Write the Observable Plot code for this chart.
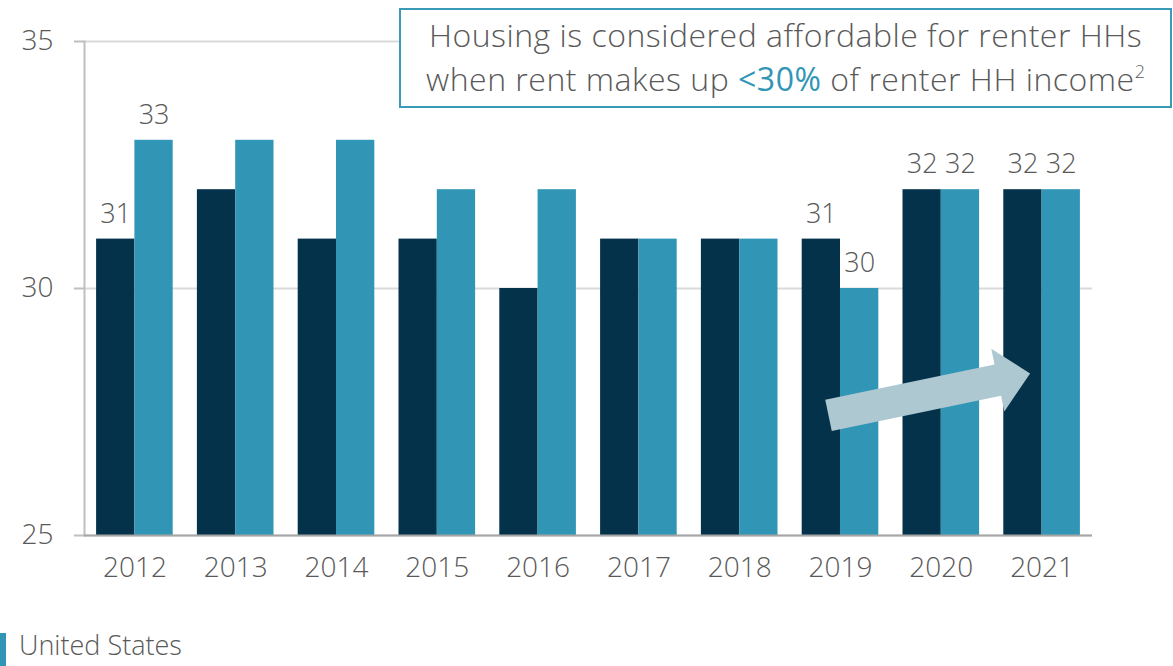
<!DOCTYPE html>
<html>
<head>
<meta charset="utf-8">
<script src="https://cdn.jsdelivr.net/npm/d3@7"></script>
<script src="https://cdn.jsdelivr.net/npm/@observablehq/plot@0.6"></script>
<style>
  html, body { margin: 0; padding: 0; background: #fff; }
  #wrap { position: relative; width: 1173px; height: 666px; overflow: hidden; font-family: "Open Sans", "Noto Sans", sans-serif; font-weight: 300; color: #595959; }
  #chart { position: absolute; left: 0; top: 0; }
  #note { position: absolute; left: 399px; top: 8px; width: 773px; height: 100px; box-sizing: border-box; border: 2px solid #3a9bb8; background: #fff; text-align: center; font-size: 32px; line-height: 44px; padding-top: 3px; letter-spacing: 0.5px; white-space: nowrap; }
  #note .hl { color: #3196b5; font-weight: 400; }
  #note sup { font-size: 18px; line-height: 0; vertical-align: 13px; letter-spacing: 0; }
  #swatch { position: absolute; left: 0; top: 633px; width: 6px; height: 40px; background: #3196b5; }
  #legendText { position: absolute; left: 19px; top: 631px; font-size: 27px; line-height: 28px; white-space: nowrap; }
</style>
</head>
<body>
<div id="wrap">
  <div id="chart"></div>
  <div id="note">Housing is considered affordable for renter HHs<br>when rent makes up <span class="hl">&lt;30%</span> of renter HH income<sup>2</sup></div>
  <div id="swatch"></div>
  <div id="legendText"></div>
</div>
<script>
// ---- data ----
const years = ["2012","2013","2014","2015","2016","2017","2018","2019","2020","2021"];
const regionValues = [31,32,31,31,30,31,31,31,32,32];
const usValues = [33,33,33,32,32,31,31,30,32,32];
const labeledYears = ["2012","2019","2020","2021"];
const yTicks = [25,30,35];
const usName = "United States";
// trend arrow annotation (data space)
const arrowStart = {year: "2019", value: 27.43};
const arrowEnd = {year: "2021", value: 28.28};

document.getElementById("legendText").textContent = usName;

// ---- layout ----
const W = 1173, H = 600;
const mL = 84, mR = 81, mT = 41, mB = 65;
const darkColor = "#03324a";
const tealColor = "#3196b5";
const textColor = "#595959";
const xOpts = {domain: years, paddingInner: 0.24, paddingOuter: 0.12, round: false};
const yOpts = {domain: [yTicks[0], yTicks[yTicks.length - 1]]};

const xs = Plot.scale({x: {type: "band", ...xOpts, range: [mL, W - mR]}});
const ys = Plot.scale({y: {type: "linear", ...yOpts, range: [H - mB, mT]}});
const bw = xs.bandwidth;

const table = years.map((y, i) => ({year: y, region: regionValues[i], us: usValues[i]}));
const labelRows = table.filter(d => labeledYears.includes(d.year));

// arrow geometry from scales
const arrowDx = -12;
const ax0 = xs.apply(arrowStart.year) + bw / 2 + arrowDx, ay0 = ys.apply(arrowStart.value);
const ax1 = xs.apply(arrowEnd.year) + bw / 2 + arrowDx, ay1 = ys.apply(arrowEnd.value);
const arrowLen = Math.hypot(ax1 - ax0, ay1 - ay0);
const arrowRot = Math.atan2(ax1 - ax0, -(ay1 - ay0)) * 180 / Math.PI;
const shaftHalf = 16, headHalf = 32, headLen = 33;
const arrowShape = {
  draw(context, l) {
    const b = -(l - headLen);
    context.moveTo(-shaftHalf, 0);
    context.lineTo(-shaftHalf, b);
    context.lineTo(-headHalf, b);
    context.lineTo(0, -l);
    context.lineTo(headHalf, b);
    context.lineTo(shaftHalf, b);
    context.lineTo(shaftHalf, 0);
    context.closePath();
  }
};

const chart = Plot.plot({
  width: W, height: H,
  marginLeft: mL, marginRight: mR, marginTop: mT, marginBottom: mB,
  style: {fontFamily: '"Open Sans", "Noto Sans", sans-serif', fontWeight: 300, color: textColor, background: "#fff"},
  x: {...xOpts, label: null},
  y: {...yOpts, label: null},
  marks: [
    Plot.gridY(yTicks, {stroke: "#d9d9d9", strokeOpacity: 1, strokeWidth: 2}),
    Plot.barY(table, {x: "year", y1: yTicks[0], y2: "region", fill: darkColor, insetRight: bw / 2}),
    Plot.barY(table, {x: "year", y1: yTicks[0], y2: "us", fill: tealColor, insetLeft: bw / 2}),
    Plot.frame({anchor: "left", stroke: "#bfbfbf", strokeWidth: 2}),
    Plot.ruleY([yTicks[0]], {stroke: "#a6a6a6", strokeWidth: 2}),
    Plot.axisY({ticks: yTicks, tickSize: 10, tickPadding: 21, fontSize: 28, stroke: "#bfbfbf", strokeWidth: 2, fill: textColor, tickFormat: d => String(d)}),
    Plot.axisX({tickSize: 0, tickPadding: 22, fontSize: 28, fill: textColor}),
    Plot.text(labelRows, {x: "year", y: "region", text: d => String(d.region), dx: -bw / 4, dy: -25, fontSize: 27, fill: textColor}),
    Plot.text(labelRows, {x: "year", y: "us", text: d => String(d.us), dx: bw / 4, dy: -25, fontSize: 27, fill: textColor}),
    Plot.vector([arrowStart], {x: "year", y: "value", dx: arrowDx, length: arrowLen, rotate: arrowRot, anchor: "start", shape: arrowShape, fill: "#aec8d1", stroke: "none"})
  ]
});
document.getElementById("chart").appendChild(chart);
</script>
</body>
</html>
